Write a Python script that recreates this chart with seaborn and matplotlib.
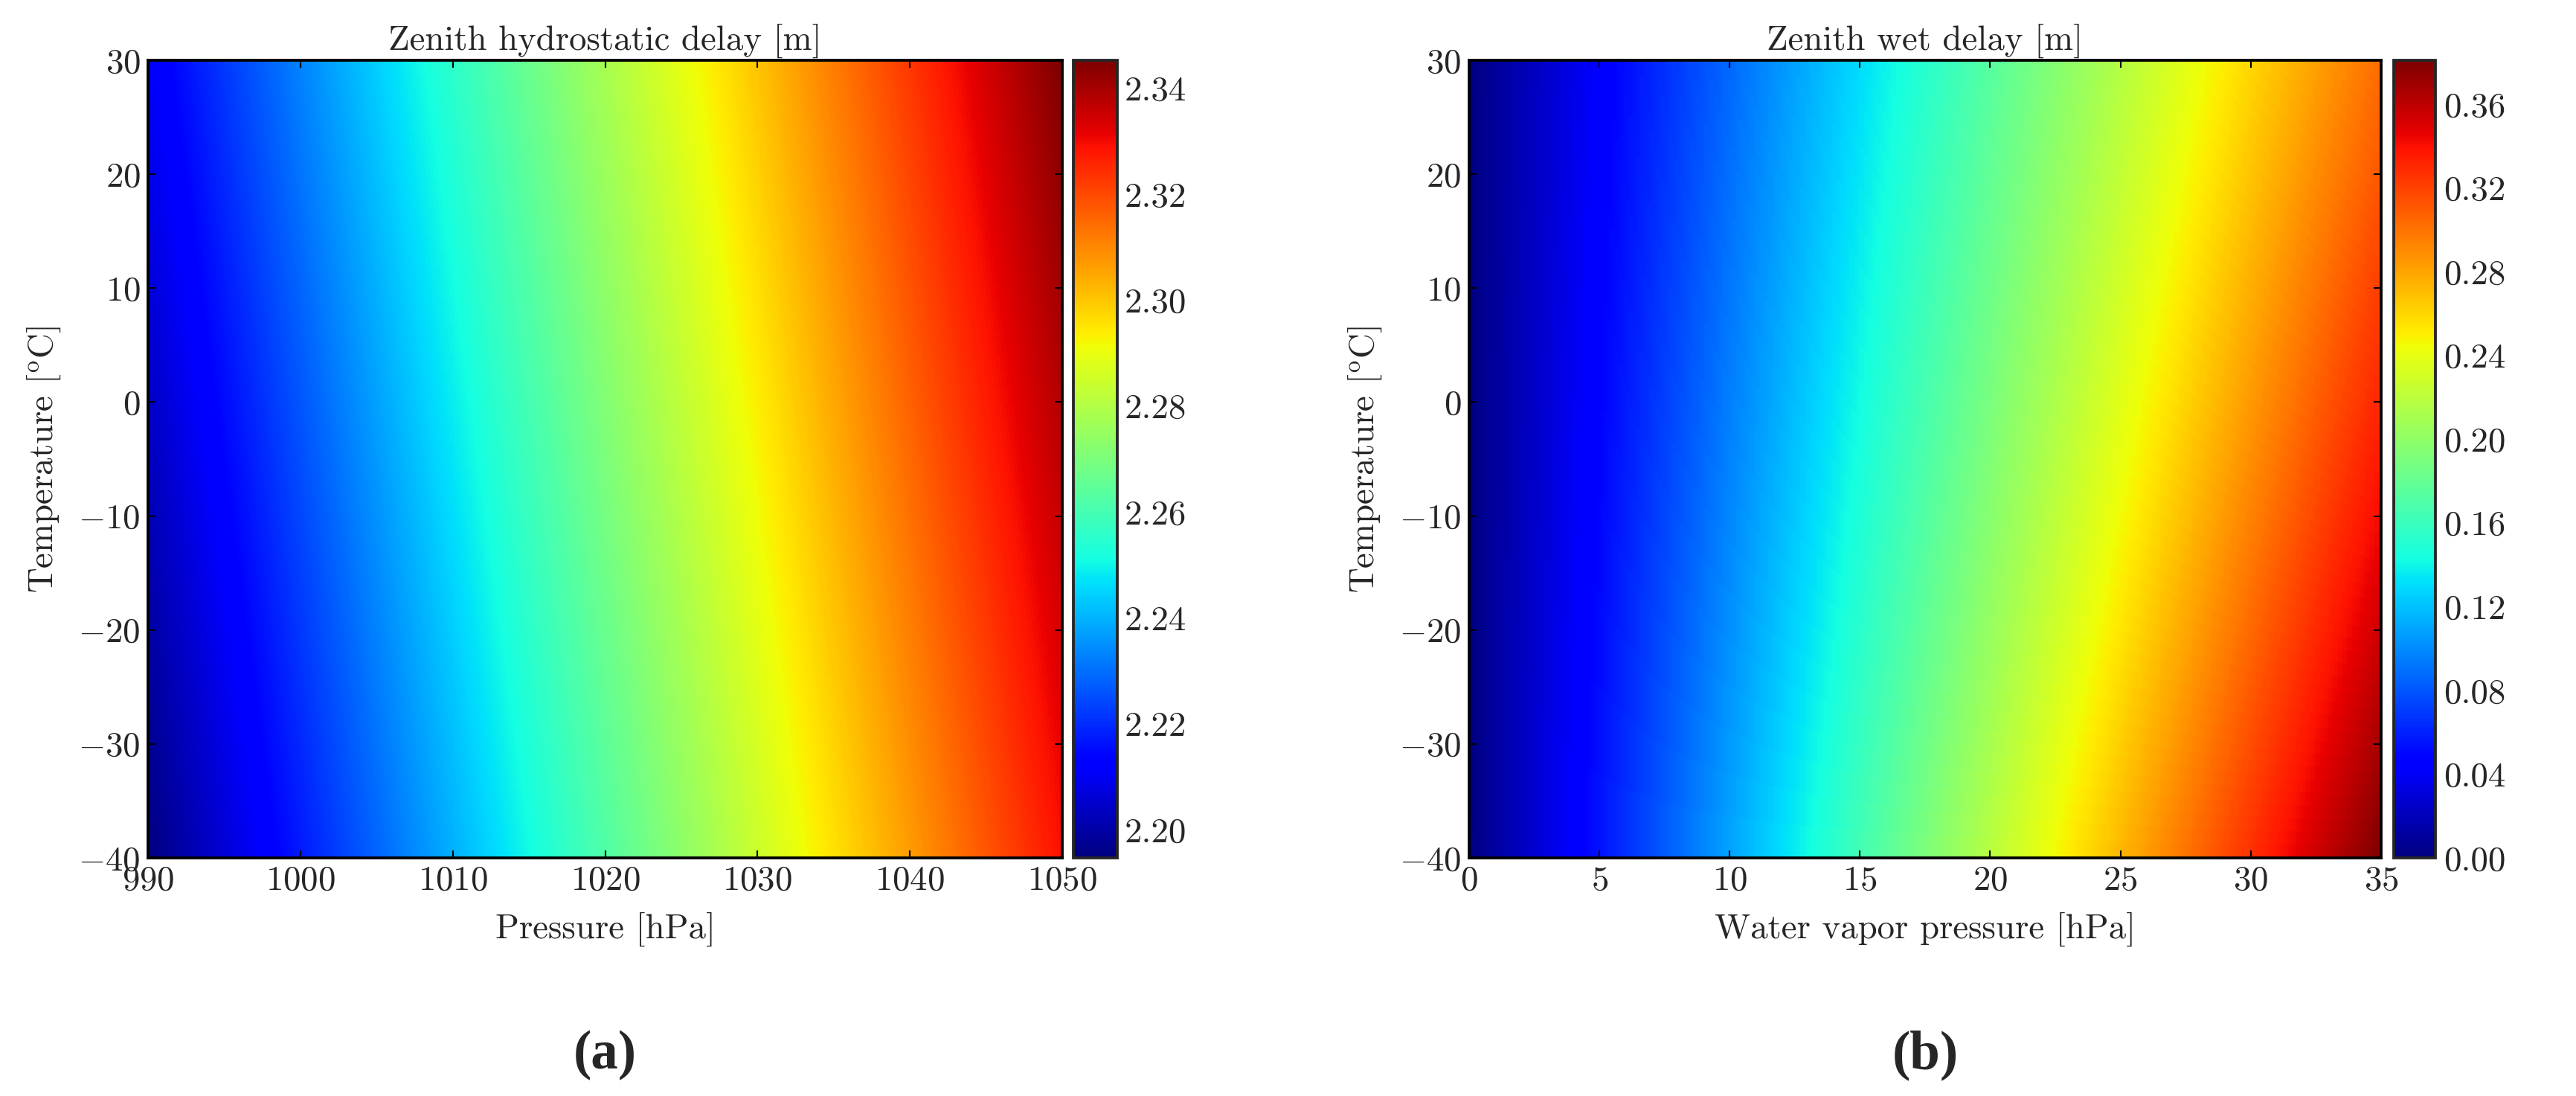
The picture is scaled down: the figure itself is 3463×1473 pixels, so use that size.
import numpy as np
import matplotlib
matplotlib.use("Agg")
import matplotlib.pyplot as plt
from matplotlib.ticker import FormatStrFormatter
import seaborn as sns

# values
# (a) zenith hydrostatic delay [m], rows = temperature, columns = pressure
pressure = [990, 1010, 1030, 1050]
temp_zhd = [-40, -5, 30]
zhd_tm40 = [2.1947, 2.2395, 2.2842, 2.3290]
zhd_tm5 = [2.2026, 2.2475, 2.2923, 2.3372]
zhd_tp30 = [2.2105, 2.2554, 2.3004, 2.3453]

# (b) zenith wet delay [m], columns = water vapor pressure
wvp = [0, 35]
temp_zwd = [-40, -30, -20, -10, 0, 10, 20, 30]
zwd_e0 = [0.0, 0.0, 0.0, 0.0, 0.0, 0.0, 0.0, 0.0]
zwd_e35 = [0.381, 0.367, 0.354, 0.342, 0.331, 0.321, 0.311, 0.302]

zhd_ticks = [2.20, 2.22, 2.24, 2.26, 2.28, 2.30, 2.32, 2.34]
zwd_ticks = [0.00, 0.04, 0.08, 0.12, 0.16, 0.20, 0.24, 0.28, 0.32, 0.36]

sns.set_style("ticks", {"xtick.direction": "in", "ytick.direction": "in"})
plt.rcParams["font.family"] = ["serif"]
plt.rcParams["font.serif"] = ["cmr10"]
plt.rcParams["mathtext.fontset"] = "cm"
plt.rcParams["axes.formatter.use_mathtext"] = True
plt.rcParams["font.size"] = 13.5


def half_ext(v):
    step = v[1] - v[0]
    return v[0] - step / 2, v[-1] + step / 2


def panel(ax, cax, x, y, grid, xlabel, title, ticks, xticks):
    ext = half_ext(x) + half_ext(y)
    im = ax.imshow(grid, cmap="jet", origin="lower", aspect="auto",
                   interpolation="bilinear", interpolation_stage="data",
                   extent=ext)
    ax.set_xlim(x[0], x[-1])
    ax.set_ylim(y[0], y[-1])
    ax.set_xticks(xticks)
    ax.set_yticks(range(-40, 31, 10))
    ax.tick_params(direction="in", length=3, width=0.6, top=True, right=True,
                   color="black", pad=3)
    for s in ax.spines.values():
        s.set_linewidth(1.1)
        s.set_color("black")
    ax.set_xlabel(xlabel, labelpad=6)
    ax.set_ylabel(r"Temperature [$^{\rm o}$C]", labelpad=6)
    ax.set_title(title, pad=4, fontsize=13.5)
    cb = fig.colorbar(im, cax=cax, ticks=ticks)
    cb.ax.yaxis.set_major_formatter(FormatStrFormatter("%.2f"))
    cb.ax.tick_params(direction="in", length=3, width=0.6, right=True, left=False, pad=3)
    cb.outline.set_linewidth(1.1)
    return im


fig = plt.figure(figsize=(13.852, 5.892), dpi=250)
ax1 = fig.add_axes([0.0575, 0.2172, 0.3549, 0.7278])
cax1 = fig.add_axes([0.4166, 0.2172, 0.0170, 0.7278])
ax2 = fig.add_axes([0.5703, 0.2172, 0.3540, 0.7278])
cax2 = fig.add_axes([0.9293, 0.2172, 0.0162, 0.7278])

zhd = np.array([zhd_tm40, zhd_tm5, zhd_tp30])
zwd = np.column_stack([zwd_e0, zwd_e35])

panel(ax1, cax1, pressure, temp_zhd, zhd, "Pressure [hPa]",
      "Zenith hydrostatic delay [m]", zhd_ticks, range(990, 1051, 10))
panel(ax2, cax2, wvp, temp_zwd, zwd, "Water vapor pressure [hPa]",
      "Zenith wet delay [m]", zwd_ticks, range(0, 36, 5))

fig.text(0.0575 + 0.3549 / 2, 0.037, "(a)", ha="center", va="center",
         fontsize=21, fontweight="bold", family="Liberation Serif")
fig.text(0.5703 + 0.3540 / 2, 0.037, "(b)", ha="center", va="center",
         fontsize=21, fontweight="bold", family="Liberation Serif")

fig.savefig("out.png", dpi=250)
